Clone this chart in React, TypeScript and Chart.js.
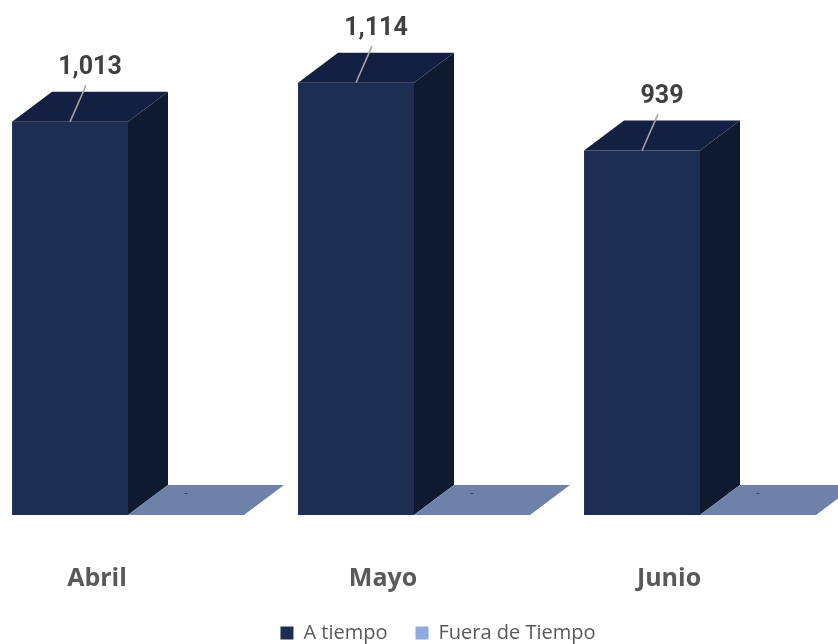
import { useEffect, useRef } from "react";
import { Chart, registerables } from "chart.js";

Chart.register(...registerables);

const categories = ["Abril", "Mayo", "Junio"];
const aTiempo = [1013, 1114, 939];
const fueraDeTiempo = [0, 0, 0];
const seriesNames = ["A tiempo", "Fuera de Tiempo"];
const yMax = 1327;

// 3D styling
const DX = 40;
const DY = -30;
const FRONT = "#1e2d52";
const TOP = "#142042";
const SIDE = "#0f1a31";
const FUERA_COLOR = "#8faadc";
const FUERA_TOP = "#6d81a9";

const fmt = (v: number) => (v === 0 ? "-" : v.toLocaleString("en-US"));

function poly(ctx: CanvasRenderingContext2D, pts: number[][]) {
  ctx.beginPath();
  ctx.moveTo(pts[0][0], pts[0][1]);
  for (let i = 1; i < pts.length; i++) ctx.lineTo(pts[i][0], pts[i][1]);
  ctx.closePath();
  ctx.fill();
}

const threeD = {
  id: "threeD",
  afterDatasetsDraw(chart: any) {
    const ctx: CanvasRenderingContext2D = chart.ctx;
    ctx.save();
    chart.data.datasets.forEach((ds: any, di: number) => {
      const meta = chart.getDatasetMeta(di);
      meta.data.forEach((el: any) => {
        const { x, y, base, width } = el.getProps(["x", "y", "base", "width"], true);
        const l = x - width / 2;
        const r = x + width / 2;
        const isMain = di === 0;
        if (base - y > 0.5) {
          ctx.fillStyle = SIDE;
          poly(ctx, [[r, y], [r + DX, y + DY], [r + DX, base + DY], [r, base]]);
        }
        ctx.fillStyle = isMain ? TOP : FUERA_TOP;
        poly(ctx, [[l, y], [r, y], [r + DX, y + DY], [l + DX, y + DY]]);
      });
    });
    // data labels
    chart.data.datasets.forEach((ds: any, di: number) => {
      const meta = chart.getDatasetMeta(di);
      meta.data.forEach((el: any, i: number) => {
        const v = ds.data[i] as number;
        const { x, y, base } = el.getProps(["x", "y", "base"], true);
        ctx.textAlign = "center";
        ctx.textBaseline = "middle";
        ctx.fillStyle = "#404040";
        if (v > 0) {
          const lx = x + 20;
          const ly = y - 54;
          ctx.strokeStyle = "#a6a6a6";
          ctx.lineWidth = 1.5;
          ctx.beginPath();
          ctx.moveTo(lx - 4, ly + 17.5);
          ctx.lineTo(x, y);
          ctx.stroke();
          ctx.font = "bold 25px Roboto";
          ctx.fillText(fmt(v), lx, ly);
        } else {
          ctx.font = "12px Roboto";
          ctx.fillText(fmt(v), x, base - 21);
        }
      });
    });
    ctx.restore();
  },
};

export default function App() {
  const ref = useRef<HTMLCanvasElement>(null);
  useEffect(() => {
    const chart = new Chart(ref.current as HTMLCanvasElement, {
      type: "bar",
      data: {
        labels: categories,
        datasets: [
          {
            label: seriesNames[0],
            data: aTiempo,
            backgroundColor: FRONT,
            borderWidth: 0,
            categoryPercentage: 0.811,
            barPercentage: 1,
          },
          {
            label: seriesNames[1],
            data: fueraDeTiempo,
            backgroundColor: FUERA_COLOR,
            borderWidth: 0,
            categoryPercentage: 0.811,
            barPercentage: 1,
          },
        ],
      },
      options: {
        responsive: false,
        animation: false,
        events: [],
        layout: { padding: 0 },
        plugins: {
          legend: {
            position: "bottom",
            labels: {
              boxWidth: 13,
              boxHeight: 13,
              padding: 28,
              color: "#595959",
              font: { family: "Open Sans", size: 20 },
            },
          },
          tooltip: { enabled: false },
        },
        scales: {
          x: {
            grid: { display: false, drawTicks: false },
            border: { display: false },
            ticks: {
              labelOffset: -31,
              padding: 49,
              color: "#595959",
              font: { family: "Open Sans", size: 25, weight: "bold" },
              maxRotation: 0,
              autoSkip: false,
            },
            afterFit: (s: any) => {
              s.height = 80;
            },
          },
          y: {
            position: "right",
            min: 0,
            max: yMax,
            grid: { display: false, drawTicks: false },
            border: { display: false },
            ticks: { display: false },
            afterFit: (s: any) => {
              s.width = 48;
            },
          },
        },
      } as any,
      plugins: [threeD],
    });
    return () => chart.destroy();
  }, []);
  return (
    <div
      style={{
        position: "fixed",
        left: 0,
        top: 0,
        width: 838,
        height: 644,
        overflow: "hidden",
        background: "#ffffff",
      }}
    >
      <div style={{ position: "absolute", left: -15, top: 0, width: 906, height: 653 }}>
        <canvas ref={ref} width={906} height={653} style={{ width: 906, height: 653, display: "block" }} />
      </div>
    </div>
  );
}
